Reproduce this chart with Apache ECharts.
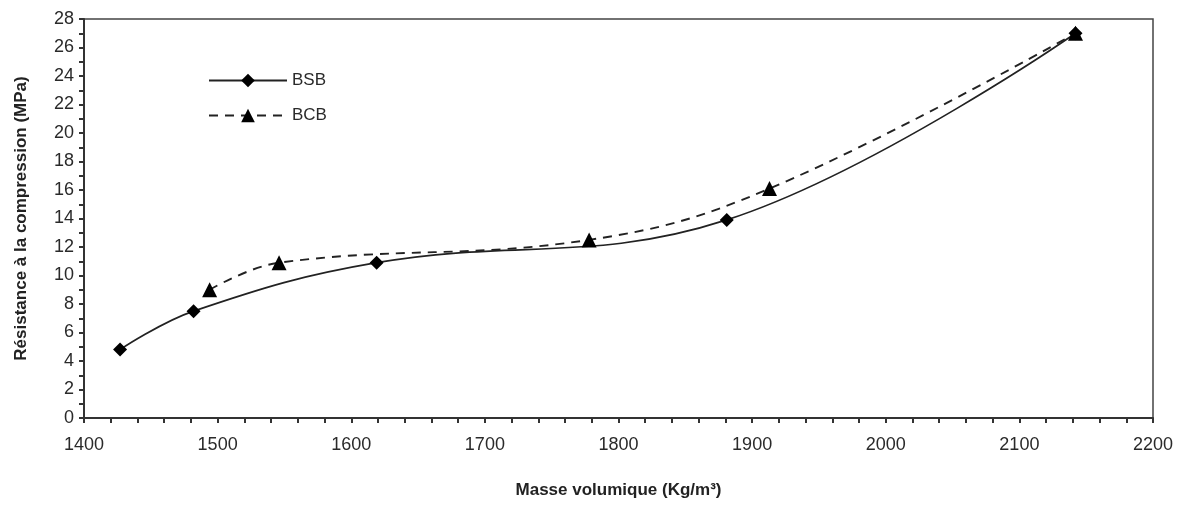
<!DOCTYPE html>
<html>
<head>
<meta charset="utf-8">
<script src="https://cdn.jsdelivr.net/npm/echarts@6/dist/echarts.min.js"></script>
<style>
html,body{margin:0;padding:0;background:#fff;}
#chart{width:1185px;height:507px;}
</style>
</head>
<body>
<div id="chart"></div>
<script>
const bsbX = [1427, 1482, 1619, 1881, 2142];
const bsbY = [4.8, 7.5, 10.9, 13.9, 27.0];
const bcbX = [1494, 1546, 1778, 1913, 2142];
const bcbY = [9.0, 10.9, 12.5, 16.1, 27.0];
const seriesNames = ['BSB', 'BCB'];
const xTitle = 'Masse volumique (Kg/m³)';
const yTitle = 'Résistance à la compression (MPa)';

const pairs = (xs, ys) => xs.map((x, i) => [x, ys[i]]);
const font = 'Liberation Sans, Arial, sans-serif';
const ink = '#222';

const chart = echarts.init(document.getElementById('chart'));
chart.setOption({
  animation: false,
  backgroundColor: '#fff',
  grid: {left: 84, right: 32, top: 19, bottom: 89, show: true, borderColor: '#444', borderWidth: 1.5, backgroundColor: 'transparent'},
  legend: {
    orient: 'vertical', left: 203, top: 67, itemGap: 18, itemWidth: 78, itemHeight: 17,
    textStyle: {fontFamily: font, fontSize: 17, color: '#2a2a2a'},
    data: seriesNames
  },
  xAxis: {
    type: 'value', min: 1400, max: 2200, interval: 100,
    axisLine: {show: true, lineStyle: {color: '#333', width: 2}},
    axisTick: {show: true, length: 5, lineStyle: {color: '#333', width: 2}},
    minorTick: {show: true, splitNumber: 5, length: 5, lineStyle: {color: '#333', width: 2}},
    splitLine: {show: false},
    axisLabel: {fontFamily: font, fontSize: 18, color: '#2a2a2a', margin: 18, formatter: v => String(v)},
    name: xTitle, nameLocation: 'middle', nameGap: 64,
    nameTextStyle: {fontFamily: font, fontSize: 17, fontWeight: 'bold', color: ink}
  },
  yAxis: {
    type: 'value', min: 0, max: 28, interval: 2,
    axisLine: {show: true, lineStyle: {color: '#333', width: 2}},
    axisTick: {show: true, length: 5, lineStyle: {color: '#333', width: 2}},
    minorTick: {show: true, splitNumber: 2, length: 5, lineStyle: {color: '#333', width: 2}},
    splitLine: {show: false},
    axisLabel: {fontFamily: font, fontSize: 18, color: '#2a2a2a', margin: 10},
    name: yTitle, nameLocation: 'middle', nameGap: 54,
    nameTextStyle: {fontFamily: font, fontSize: 17, fontWeight: 'bold', color: ink}
  },
  series: [
    {
      name: seriesNames[0], type: 'line', data: pairs(bsbX, bsbY), smooth: 0.4,
      symbol: 'diamond', symbolSize: 14,
      itemStyle: {color: '#000'},
      lineStyle: {color: ink, width: 1.7, type: 'solid'}
    },
    {
      name: seriesNames[1], type: 'line', data: pairs(bcbX, bcbY), smooth: 0.4,
      symbol: 'triangle', symbolSize: 15,
      itemStyle: {color: '#000'},
      lineStyle: {color: ink, width: 1.9, type: [9, 7]}
    }
  ]
});
</script>
</body>
</html>
